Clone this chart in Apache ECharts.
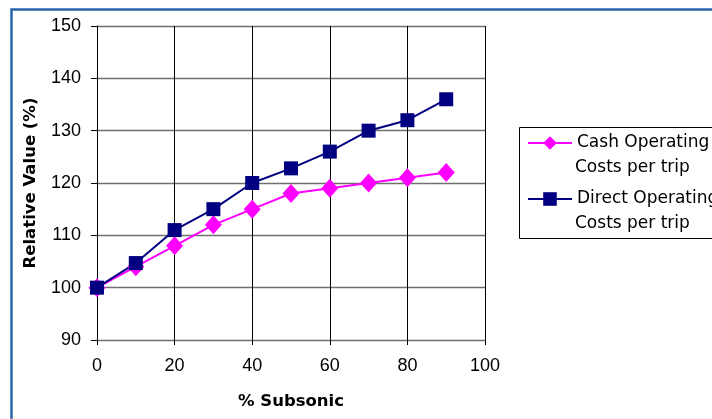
<!DOCTYPE html>
<html>
<head>
<meta charset="utf-8">
<script src="https://cdn.jsdelivr.net/npm/echarts@6/dist/echarts.min.js"></script>
<style>
html, body { margin: 0; padding: 0; background: #fff; }
#chart { width: 712px; height: 419px; }
</style>
</head>
<body>
<div id="chart"></div>
<script>
var subsonic = [0, 10, 20, 30, 40, 50, 60, 70, 80, 90];
var cashCosts = [100, 104, 108, 112, 115, 118, 119, 120, 121, 122];
var directCosts = [100, 104.7, 111, 115, 120, 122.8, 126, 130, 132, 136];
var seriesNames = ['Cash Operating', 'Direct Operating'];
var nameTails = ['Costs per trip', 'Costs per trip'];

function pairs(xs, ys){
	var out = [];
	for(var i = 0; i < xs.length; i++){
		out.push([xs[i], ys[i]]);
	}
	return out;
}

var myChart = echarts.init(document.getElementById('chart'));

var tickFont = { fontFamily: 'Liberation Sans', fontSize: 18, color: '#000' };
var nameFont = { fontFamily: 'DejaVu Sans', fontWeight: 'bold', fontSize: 16.5, color: '#000' };

var option = {
	backgroundColor: '#fff',
	animation: false,
	grid: { left: 97, right: 227, top: 26, bottom: 79 },
	legend: {
		orient: 'vertical',
		left: 527,
		top: 133,
		padding: 0,
		itemWidth: 44,
		itemHeight: 17,
		itemGap: 36,
		itemTextGap: 4,
		textStyle: { fontFamily: 'DejaVu Sans', fontSize: 17, color: '#000', lineHeight: 20 },
		data: seriesNames
	},
	graphic: [
		// blue frame round the picture
		{ type: 'rect', shape: { x: 11.5, y: 9.5, width: 720, height: 430 },
			style: { fill: 'none', stroke: '#2b64ab', lineWidth: 2.5 }, z: 10 },
		// legend box
		{ type: 'rect', shape: { x: 519.5, y: 127.5, width: 220, height: 111 },
			style: { fill: 'none', stroke: '#000', lineWidth: 1 }, z: 10 },
		{ type: 'text', left: 575, top: 159,
			style: { text: nameTails[0], font: '17px "DejaVu Sans"', fill: '#000' }, z: 10 },
		{ type: 'text', left: 575, top: 215,
			style: { text: nameTails[1], font: '17px "DejaVu Sans"', fill: '#000' }, z: 10 }
	],
	xAxis: {
		type: 'value',
		min: 0,
		max: 100,
		interval: 20,
		name: '% Subsonic',
		nameLocation: 'middle',
		nameGap: 53,
		nameTextStyle: nameFont,
		axisLine: { show: false },
		axisTick: { show: true, length: 5, lineStyle: { color: '#000' } },
		axisLabel: Object.assign({ margin: 17 }, tickFont),
		splitLine: { show: true, lineStyle: { color: '#000', width: 1 } }
	},
	yAxis: {
		type: 'value',
		min: 90,
		max: 150,
		interval: 10,
		name: 'Relative Value (%)',
		nameLocation: 'middle',
		nameGap: 58,
		nameTextStyle: nameFont,
		axisLine: { show: true, onZero: false, lineStyle: { color: '#000', width: 1 } },
		axisTick: { show: true, length: 6, lineStyle: { color: '#000' } },
		axisLabel: Object.assign({ margin: 16 }, tickFont),
		splitLine: { show: true, lineStyle: { color: '#707070', width: 1.3 } }
	},
	series: [
		{
			name: seriesNames[0],
			type: 'line',
			data: pairs(subsonic, cashCosts),
			symbol: 'diamond',
			symbolSize: [17, 19],
			color: '#ff00ff',
			lineStyle: { color: '#ff00ff', width: 2 },
			itemStyle: { color: '#ff00ff' }
		},
		{
			name: seriesNames[1],
			type: 'line',
			data: pairs(subsonic, directCosts),
			symbol: 'rect',
			symbolSize: 14,
			color: '#000080',
			lineStyle: { color: '#000080', width: 2 },
			itemStyle: { color: '#000080' }
		}
	]
};

myChart.setOption(option);
</script>
</body>
</html>
